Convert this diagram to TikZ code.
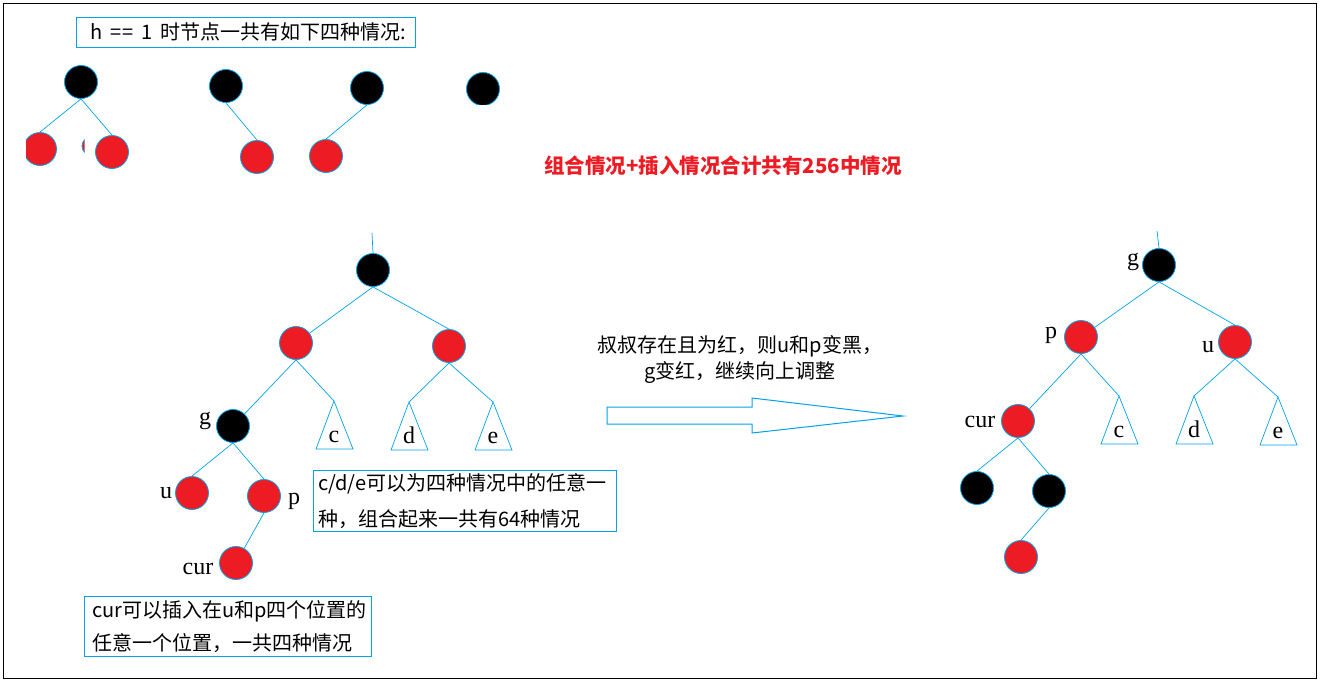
\documentclass[tikz,border=0pt]{standalone}
\usepackage{fontspec}
\setmainfont{Noto Sans CJK SC}
\newfontfamily\labfont{Liberation Serif}
\definecolor{lb}{RGB}{0,162,232}
\definecolor{nred}{RGB}{237,28,36}
\begin{document}
\begin{tikzpicture}[x=1pt,y=-1pt,
  bn/.style={circle,draw=lb,fill=black,minimum size=33pt,inner sep=0pt,line width=0.8pt},
  rn/.style={bn,fill=nred},
  edge/.style={lb,line width=0.7pt},
  lab/.style={font=\labfont\fontsize{24}{24}\selectfont,inner sep=0pt},
  txt/.style={font=\fontsize{20}{24}\selectfont,inner sep=0pt},
  frame/.style={draw=lb,line width=1pt,inner sep=0pt},
  pics/tri/.style={code={
    \draw[edge] (0,0) -- (-18,48) -- (19,48) -- cycle;
    \node[lab,anchor=base] at (0,41) {#1};}}
]
\useasboundingbox (0,0) rectangle (1321,683);
\draw[black,line width=1pt] (3,3) rectangle (1316,678);

% ---------- title box ----------
\node[frame,minimum width=339pt,minimum height=30pt,anchor=north west] (hbox) at (76,17) {};
\node[txt,anchor=west] (htxt) at (90,32) {h\hspace{8pt}=\hspace{1pt}=\hspace{8pt}1\hspace{8pt}时节点一共有如下四种情况:};

% ---------- four small trees ----------
\node[bn] (t1) at (81,82) {};
\begin{scope}
  \clip (26,100) rectangle (70,200);
  \node[rn] (t1a) at (40,149) {};
\end{scope}
\node[rn] (t1b) at (112,152) {};
\begin{scope}
  \clip (81.5,130) rectangle (84.5,160);
  \fill[nred,draw=lb,line width=0.8pt] (91,146) circle (9);
\end{scope}
\draw[edge] (t1.south) -- (t1a.north);
\draw[edge] (t1.south) -- (t1b.north);

\node[bn] (t2) at (226,86) {};
\node[rn] (t2a) at (257,157) {};
\draw[edge] (t2.south) -- (t2a.north);

\node[bn] (t3) at (367,88) {};
\node[rn] (t3a) at (326,156) {};
\draw[edge] (t3.south) -- (t3a.north);

\begin{scope}
  \clip (440,50) rectangle (530,104);
  \node[bn] (t4) at (483,89) {};
\end{scope}

% ---------- red summary ----------
\node[font=\bfseries\fontsize{20.5}{24}\selectfont,text=nred,inner sep=0pt] (sum) at (723,166) {组合情况+插入情况合计共有256中情况};

% ---------- middle tree ----------
\coordinate (mtop) at (372,233);
\node[bn] (m) at (373,270) {};
\node[rn] (mL) at (296,343) {};
\node[rn] (mR) at (449,346) {};
\node[bn] (g) at (233,426) {};
\node[rn] (u) at (192,493) {};
\node[rn] (p) at (264,496) {};
\node[rn] (cur) at (236,563) {};
\coordinate (mc) at (334,401);
\coordinate (md) at (409,402);
\coordinate (me) at (493,402);
\pic at (mc) {tri=c};
\pic at (md) {tri=d};
\pic at (me) {tri=e};
\draw[edge] (mtop) -- (m.north);
\draw[edge] (m.south) -- (mL);
\draw[edge] (m.south) -- (mR.north);
\draw[edge] (mL.south) -- (g);
\draw[edge] (mL.south) -- (mc);
\draw[edge] (mR.south) -- (md);
\draw[edge] (mR.south) -- (me);
\draw[edge] (g.south) -- (u.north);
\draw[edge] (g.south) -- (p.north);
\draw[edge] (p.south) -- (cur);
\node[lab] (lg) at (205,421) {g};
\node[lab] (lu) at (166,493) {u};
\node[lab] (lp) at (294,501) {p};
\node[lab] (lcur) at (198,569) {cur};

% ---------- note boxes ----------
\node[frame,minimum width=303pt,minimum height=61pt,anchor=north west] (cdebox) at (313,470) {};
\node[txt,anchor=west] (cde1) at (318,484) {c/d/e可以为四种情况中的任意一};
\node[txt,anchor=west] (cde2) at (318,519) {种，组合起来一共有64种情况};

\node[frame,minimum width=287pt,minimum height=60pt,anchor=north west] (curbox) at (84,596) {};
\node[txt,anchor=west] (cur1) at (92,611) {cur可以插入在u和p四个位置的};
\node[txt,anchor=west] (cur2) at (92,643) {任意一个位置，一共四种情况};

% ---------- arrow ----------
\node[txt,align=center,font=\fontsize{20}{26}\selectfont] (atxt) at (740,360) {叔叔存在且为红，则u和p变黑，\\g变红，继续向上调整};
\draw[lb,line width=1pt] (607,407) -- (752,407) -- (752,398) -- (903,416) -- (752,433) -- (752,424) -- (607,424) -- cycle;

% ---------- right tree ----------
\coordinate (rtop) at (1157,231);
\node[bn] (rg) at (1159,265) {};
\node[rn] (rp) at (1081,337) {};
\node[rn] (ru) at (1235,342) {};
\node[rn] (rcur) at (1018,421) {};
\node[bn] (rb1) at (977,488) {};
\node[bn] (rb2) at (1049,491) {};
\node[rn] (rr) at (1021,557) {};
\coordinate (rc) at (1119,396);
\coordinate (rd) at (1194,396);
\coordinate (re) at (1278,397);
\pic at (rc) {tri=c};
\pic at (rd) {tri=d};
\pic at (re) {tri=e};
\draw[edge] (rtop) -- (rg.north);
\draw[edge] (rg.south) -- (rp);
\draw[edge] (rg.south) -- (ru.north);
\draw[edge] (rp.south) -- (rcur);
\draw[edge] (rp.south) -- (rc);
\draw[edge] (ru.south) -- (rd);
\draw[edge] (ru.south) -- (re);
\draw[edge] (rcur.south) -- (rb1.north);
\draw[edge] (rcur.south) -- (rb2.north);
\draw[edge] (rb2.south) -- (rr.north);
\node[lab] (rlg) at (1133,262) {g};
\node[lab] (rlp) at (1051,335) {p};
\node[lab] (rlu) at (1208,347) {u};
\node[lab] (rlcur) at (980,422) {cur};
\end{tikzpicture}
\end{document}
